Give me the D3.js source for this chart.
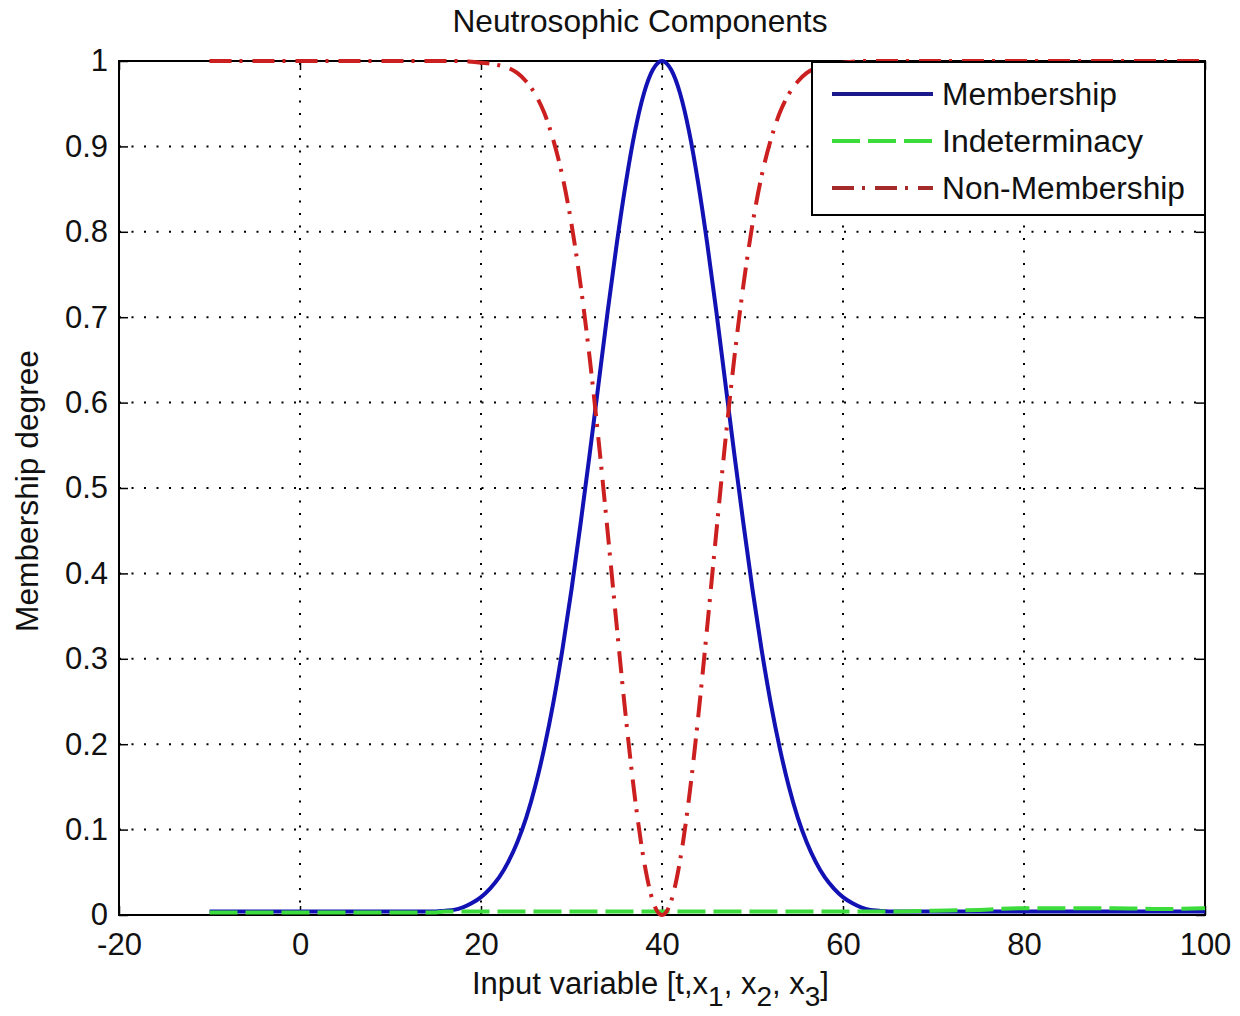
<!DOCTYPE html>
<html>
<head>
  <meta charset="utf-8">
  <script src="https://d3js.org/d3.v7.min.js"></script>
  <style>
    body { margin: 0; background: #fff; }
    svg text { font-family: "Liberation Sans", Arial, sans-serif; fill: #111; }
  </style>
</head>
<body>
<script>
// values
var xs = [-10, -5, 0, 5, 10, 15,
  16, 17, 18, 19, 20, 21, 22, 23, 24, 25, 26, 27, 28, 29, 30, 31, 32, 33, 34, 35, 36, 37, 38, 39, 40,
  41, 42, 43, 44, 45, 46, 47, 48, 49, 50, 51, 52, 53, 54, 55, 56, 57, 58, 59, 60, 61, 62, 63, 64, 65,
  70, 75, 80, 85, 90, 95, 100];

var membership = [0.004, 0.004, 0.004, 0.004, 0.004, 0.004,
  0.005, 0.006, 0.009, 0.014, 0.021, 0.031, 0.044, 0.062, 0.085, 0.114, 0.151, 0.196, 0.249, 0.311,
  0.381, 0.458, 0.539, 0.623, 0.707, 0.786, 0.857, 0.917, 0.962, 0.990, 1.000,
  0.990, 0.962, 0.917, 0.857, 0.786, 0.707, 0.623, 0.539, 0.458, 0.381, 0.311, 0.249, 0.196, 0.151,
  0.114, 0.085, 0.062, 0.044, 0.031, 0.021, 0.014, 0.009, 0.006, 0.005, 0.004,
  0.004, 0.004, 0.004, 0.004, 0.004, 0.004, 0.004];

var indeterminacy = [0.003, 0.003, 0.003, 0.003, 0.003, 0.003,
  0.004, 0.004, 0.004, 0.004, 0.004, 0.004, 0.004, 0.004, 0.004, 0.004, 0.004, 0.004, 0.004, 0.004,
  0.004, 0.004, 0.004, 0.004, 0.004, 0.004, 0.004, 0.004, 0.004, 0.004, 0.004,
  0.004, 0.004, 0.004, 0.004, 0.004, 0.004, 0.004, 0.004, 0.004, 0.004, 0.004, 0.004, 0.004, 0.004,
  0.004, 0.004, 0.004, 0.004, 0.004, 0.004, 0.004, 0.004, 0.004, 0.004, 0.004,
  0.005, 0.006, 0.008, 0.008, 0.008, 0.007, 0.008];

var nonMembership = [1, 1, 1, 1, 1, 1,
  1, 1, 1, 0.999, 0.998, 0.997, 0.995, 0.992, 0.986, 0.976, 0.961, 0.939, 0.907, 0.865,
  0.809, 0.738, 0.653, 0.555, 0.448, 0.338, 0.232, 0.138, 0.064, 0.016, 0,
  0.016, 0.064, 0.138, 0.232, 0.338, 0.448, 0.555, 0.653, 0.738, 0.809, 0.865, 0.907, 0.939, 0.961,
  0.976, 0.986, 0.992, 0.995, 0.997, 0.998, 0.999, 1, 1, 1, 1,
  1, 1, 1, 1, 1, 1, 1];

var seriesNames = ["Membership", "Indeterminacy", "Non-Membership"];
var xTicks = [-20, 0, 20, 40, 60, 80, 100];
var yTicks = [0, 0.1, 0.2, 0.3, 0.4, 0.5, 0.6, 0.7, 0.8, 0.9, 1];

var margin = {left: 119, top: 61, right: 35, bottom: 101};
var W = 1240, H = 1016;
var width = W - margin.left - margin.right, height = H - margin.top - margin.bottom;

var svg = d3.select("body").append("svg").attr("width", W).attr("height", H);
var g = svg.append("g").attr("transform", "translate(" + margin.left + "," + margin.top + ")");

var x = d3.scaleLinear().domain([-20, 100]).range([0, width]);
var y = d3.scaleLinear().domain([0, 1]).range([height, 0]);

// dotted grid
var grid = g.append("g");
grid.selectAll(".gx").data(xTicks.slice(1, -1)).enter().append("line")
  .attr("x1", d => x(d)).attr("x2", d => x(d)).attr("y1", height).attr("y2", 0)
  .attr("stroke", "#000").attr("stroke-width", 2).attr("stroke-dasharray", "2,10.5");
grid.selectAll(".gy").data(yTicks.slice(1, -1)).enter().append("line")
  .attr("x1", 0).attr("x2", width).attr("y1", d => y(d)).attr("y2", d => y(d))
  .attr("stroke", "#000").attr("stroke-width", 2).attr("stroke-dasharray", "2,10.5");

// axes with inward ticks
var fmt = d => String(d);
var ax = g.append("g").attr("transform", "translate(0," + height + ")")
  .call(d3.axisBottom(x).tickValues(xTicks).tickFormat(fmt).tickSize(-9).tickPadding(18));
var ay = g.append("g")
  .call(d3.axisLeft(y).tickValues(yTicks).tickFormat(fmt).tickSize(-9).tickPadding(11));
g.append("g").call(d3.axisTop(x).tickValues(xTicks).tickFormat("").tickSize(-9));
g.append("g").attr("transform", "translate(" + width + ",0)")
  .call(d3.axisRight(y).tickValues(yTicks).tickFormat("").tickSize(-9));
g.selectAll(".domain").remove();
g.selectAll(".tick line").attr("stroke", "#000").attr("stroke-width", 1.5);
g.selectAll(".tick text").style("font-size", "31px").style("font-family", "'Liberation Sans', Arial, sans-serif").attr("fill", "#111");

// frame
g.append("rect").attr("x", 0).attr("y", 0).attr("width", width).attr("height", height)
  .attr("fill", "none").attr("stroke", "#000").attr("stroke-width", 2);

// series
var styles = [
  {vals: membership, color: "#1212b4", dash: null},
  {vals: indeterminacy, color: "#3ddc3d", dash: "28,8"},
  {vals: nonMembership, color: "#cc2020", dash: "22,8,3,10"}
];
var line = d3.line().x(d => x(d[0])).y(d => y(d[1])).curve(d3.curveMonotoneX);
styles.forEach(function(s) {
  g.append("path").datum(xs.map((v, i) => [v, s.vals[i]]))
    .attr("d", line).attr("fill", "none").attr("stroke", s.color)
    .attr("stroke-width", 4).attr("stroke-dasharray", s.dash);
});

// legend
var lg = svg.append("g").attr("transform", "translate(812,62)");
lg.append("rect").attr("width", 393).attr("height", 153)
  .attr("fill", "#fff").attr("stroke", "#000").attr("stroke-width", 2);
var legendColors = ["#1a1a8c", "#3ddc3d", "#a52a2a"];
var legendWidths = [175, 201, 243];
seriesNames.forEach(function(name, i) {
  var cy = 32 + i * 47;
  lg.append("line").attr("x1", 20).attr("x2", 121).attr("y1", cy).attr("y2", cy)
    .attr("stroke", legendColors[i]).attr("stroke-width", 4).attr("stroke-dasharray", styles[i].dash);
  lg.append("text").attr("x", 130).attr("y", cy + 11).text(name)
    .style("font-size", "31px").attr("textLength", legendWidths[i]).attr("lengthAdjust", "spacingAndGlyphs");
});

// title and axis labels
svg.append("text").attr("x", 640).attr("y", 32).attr("text-anchor", "middle")
  .style("font-size", "32px").attr("textLength", 375).attr("lengthAdjust", "spacingAndGlyphs")
  .text("Neutrosophic Components");

svg.append("text").attr("transform", "translate(38,491) rotate(-90)").attr("text-anchor", "middle")
  .style("font-size", "31px").attr("textLength", 282).attr("lengthAdjust", "spacingAndGlyphs")
  .text("Membership degree");

var xl = svg.append("text").attr("x", 472).attr("y", 994).style("font-size", "31px");
xl.append("tspan").text("Input variable [t,x");
xl.append("tspan").attr("dy", 12).style("font-size", "28px").text("1");
xl.append("tspan").attr("dy", -12).text(", x");
xl.append("tspan").attr("dy", 12).style("font-size", "28px").text("2");
xl.append("tspan").attr("dy", -12).text(", x");
xl.append("tspan").attr("dy", 12).style("font-size", "28px").text("3");
xl.append("tspan").attr("dy", -12).text("]");
</script>
</body>
</html>
